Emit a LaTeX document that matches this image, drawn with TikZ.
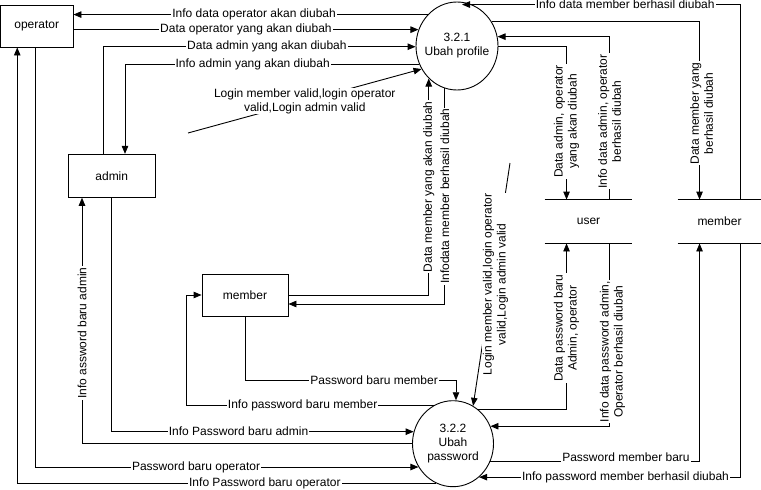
\documentclass[tikz,border=0pt]{standalone}
\usepackage{fontspec}
\setmainfont{Liberation Sans}
\usetikzlibrary{arrows.meta,shapes.geometric}
\begin{document}
\begin{tikzpicture}[x=1pt,y=-1pt,
  font=\fontsize{12}{14}\selectfont,
  line width=0.9pt,
  box/.style={draw, rectangle, inner sep=0pt},
  proc/.style={draw, ellipse, inner sep=-12pt, align=center},
  store/.style={rectangle, inner sep=0pt, minimum height=43pt},
  arr/.style={-{Triangle[length=8pt,width=6.5pt]}},
  lbl/.style={fill=white, inner xsep=1pt, inner ysep=0.5pt, align=center},
  vlbl/.style={lbl, rotate=90}]
\useasboundingbox (0,0) rectangle (761,490);
% nodes
\node[box, minimum width=72.5pt, minimum height=42pt] (op) at (36.75,26) {operator};
\node[box, minimum width=86.5pt, minimum height=43pt] (ad) at (111.75,175.8) {admin};
\node[box, minimum width=86pt, minimum height=42pt] (mb) at (245,295) {member};
\node[proc, minimum width=82pt, minimum height=88pt] (P1) at (457,46) {3.2.1\\Ubah profile};
\node[proc, minimum width=81pt, minimum height=86pt] (P2) at (453,443.7) {3.2.2\\Ubah\\password};
\node[store, minimum width=87pt] (us) at (588.5,221.5) {user};
\node[store, minimum width=83pt] (ms) at (719.5,221.5) {member};
\draw (us.north west) -- (us.north east) (us.south west) -- (us.south east);
\draw (ms.north west) -- (ms.north east) (ms.south west) -- (ms.south east);
% helper coordinates
\coordinate (p1top) at ([xshift=5pt,yshift=-3pt]P1.north);
\coordinate (p2top) at ([xshift=3pt]P2.north);
\coordinate (lg1) at (188,133);
\coordinate (lg2) at (510,163);
% flows around 3.2.1
\draw[arr] (P1.133) -- node[lbl,pos=0.49]{Info data operator akan diubah} (P1.133 -| op.east);
\draw[arr] (op.east |- P1.157) -- node[lbl,pos=0.5]{Data operator yang akan diubah} (P1.157);
\draw[arr] ([xshift=-8.5pt]ad.north) |- node[lbl,pos=0.762]{Data admin yang akan diubah} (P1.181);
\draw[arr] (P1.206) -| node[lbl,pos=0.283]{Info admin yang akan diubah} ([xshift=13.25pt]ad.north);
\draw[arr] (lg1) -- node[lbl,pos=0.5]{Login member valid,login operator\\valid,Login admin valid} (P1.213);
\draw[arr] (mb.east) -| node[vlbl,pos=0.75]{Data member yang akan diubah} (P1.229);
\draw[arr] (P1.254) |- node[vlbl,pos=0.25]{Infodata member berhasil diubah} ([yshift=-9pt]mb.east);
\draw[arr] ([xshift=63pt]ms.north west) |- node[lbl,pos=0.707]{Info data member berhasil diubah} (p1top);
\draw[arr] (P1.35) -| node[xshift=2pt,vlbl,pos=0.758]{Data member yang\\berhasil diubah} ([xshift=22pt]ms.north west);
\draw[arr] (P1.359) -| node[vlbl,pos=0.745]{Data admin, operator\\yang akan diubah} ([xshift=22pt]us.north west);
\draw[arr] ([xshift=65pt]us.north west) |- node[vlbl,pos=0.24]{Info data admin, operator\\berhasil diubah} (P1.13);
% flows around 3.2.2
\draw[arr] (lg2) -- node[xshift=4pt,vlbl,pos=0.5]{Login member valid,login operator\\valid,Login admin valid} (P2.62);
\draw[arr] (P2.54) -| node[vlbl,pos=0.745]{Data password baru\\Admin, operator} ([xshift=22pt]us.south west);
\draw[arr] ([xshift=65pt]us.south west) |- node[xshift=3pt,vlbl,pos=0.296]{Info data password admin,\\Operator berhasil diubah} (P2.25);
\draw[arr] (P2.335) -| node[yshift=4pt,lbl,pos=0.324]{Password member baru} ([xshift=22pt]ms.south west);
\draw[arr] ([xshift=63pt]ms.south west) |- node[lbl,pos=0.72]{Info password member berhasil diubah} (P2.308);
\draw[arr] (mb.south) |- node[lbl,pos=0.806]{Password baru member} (p2top |- 0,380) -- (p2top);
\draw[arr] (P2.116) -- node[lbl,pos=0.53]{Info password baru member} (P2.116 -| 186,0) |- (mb.west);
\draw[arr] (ad.south) |- node[lbl,pos=0.71]{Info Password baru admin} (P2.163);
\draw[arr] (P2.west) -| node[vlbl,pos=0.725]{Info assword baru admin} ([xshift=-29.75pt]ad.south);
\draw[arr] ([xshift=-1.75pt]op.south) |- node[lbl,pos=0.71]{Password baru operator} (P2.214);
\draw[arr] (P2.246) -| node[lbl,pos=0.204]{Info Password baru operator} ([xshift=-19.5pt]op.south);
\end{tikzpicture}
\end{document}
